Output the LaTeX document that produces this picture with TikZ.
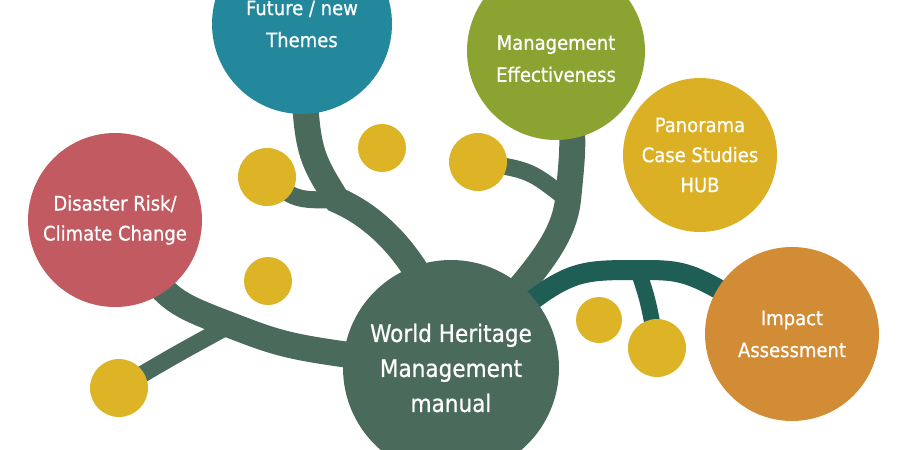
\documentclass[tikz,border=0pt]{standalone}
\usepackage{fontspec}
\setmainfont{DejaVu Sans Condensed}[UprightFeatures={FakeBold=0.7}]
\usepackage{tikz}
\usetikzlibrary{positioning,backgrounds}
\definecolor{HubGreen}{HTML}{4A6A5C}
\definecolor{TwigTeal}{HTML}{1F5E55}
\definecolor{RiskRed}{HTML}{C15B61}
\definecolor{ThemeTeal}{HTML}{24889C}
\definecolor{MgmtGreen}{HTML}{8BA330}
\definecolor{HubYellow}{HTML}{DBB024}
\definecolor{ImpactOrange}{HTML}{D28C35}
\definecolor{SeedYellow}{HTML}{DCB426}

\tikzset{
	bubble/.style={circle, inner sep=0pt, text=white, align=center,
		font=\fontsize{20}{30}\selectfont},
	seed/.style={circle, fill=SeedYellow, inner sep=0pt},
	branch/.style={draw=HubGreen, line width=26pt, line cap=round},
	twig/.style={draw=HubGreen, line width=17pt, line cap=round},
}

\begin{document}
\begin{tikzpicture}[x=1pt,y=-1pt]
	\useasboundingbox (0,0) rectangle (900,450);
	\clip (0,0) rectangle (900,450);

	% main bubbles
	\node[bubble, fill=HubGreen, minimum size=216pt,
		font=\fontsize{24}{35}\selectfont] (hub) at (451,368)
		{World Heritage\\Management\\manual};
	\node[bubble, fill=ThemeTeal, minimum size=180pt,
		font=\fontsize{20}{32}\selectfont] (future) at (302,24)
		{Future / new\\Themes};
	\node[bubble, fill=MgmtGreen, minimum size=178pt,
		font=\fontsize{20}{32}\selectfont] (mgmt) at (556,51)
		{\rule{0pt}{30pt}Management\\Effectiveness};
	\node[bubble, fill=HubYellow, minimum size=154pt] (panorama) at (700,155)
		{Panorama\\Case Studies\\HUB};
	\node[bubble, fill=ImpactOrange, minimum size=174pt,
		font=\fontsize{20}{32}\selectfont] (impact) at (792,334)
		{Impact\\Assessment};
	\node[bubble, fill=RiskRed, minimum size=174pt] (disaster) at (115,220)
		{Disaster Risk/\\Climate Change};

	% seeds
	\node[seed, minimum size=58pt] (seedA) at (267,177) {};
	\node[seed, minimum size=48pt] (seedB) at (382,148) {};
	\node[seed, minimum size=48pt] (seedC) at (268,281) {};
	\node[seed, minimum size=58pt] (seedD) at (119,388) {};
	\node[seed, minimum size=58pt] (seedE) at (478,162) {};
	\node[seed, minimum size=46pt] (seedF) at (599,320) {};
	\node[seed, minimum size=58pt] (seedG) at (657,348) {};

	% junctions
	\coordinate (jfut) at (337,200);
	\coordinate (jmgt) at (568,200);
	\coordinate (jdis) at (230,325);
	\coordinate (jimp) at (638,270);

	% branches behind the bubbles
	\begin{pgfonlayer}{background}
		\draw[branch] (future.center) .. controls (306,150) .. (jfut)
			.. controls (395,225) and (440,290) .. (hub.center);
		\draw[twig] (seedA.center) .. controls (295,200) .. (jfut);
		\draw[branch] (mgmt.center) .. controls (575,130) .. (jmgt)
			.. controls (562,250) and (520,285) .. (hub.center);
		\draw[twig] (seedE.center) .. controls (530,170) .. (jmgt);
		\draw[branch] (disaster.center) .. controls (165,300) .. (jdis)
			.. controls (290,348) .. (hub.center);
		\draw[twig] (seedD.center) .. controls (175,355) .. (jdis);
		\draw[branch, draw=TwigTeal, line width=20pt] (hub.center)
			.. controls (565,270) .. (jimp) .. controls (690,270) .. (impact.center);
		\draw[twig, draw=TwigTeal, line width=16pt] (jimp)
			.. controls (648,300) .. (seedG.center);
	\end{pgfonlayer}
\end{tikzpicture}
\end{document}
